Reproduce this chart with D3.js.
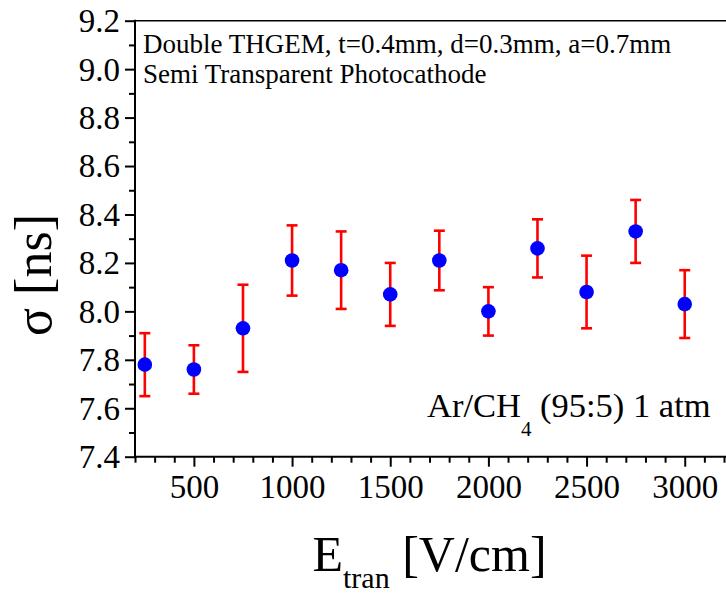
<!DOCTYPE html>
<html>
<head>
<meta charset="utf-8">
<script src="https://cdnjs.cloudflare.com/ajax/libs/d3/7.8.5/d3.min.js"></script>
<style>
  body { margin: 0; background: #fff; }
  svg text { font-family: "Liberation Serif", "Times New Roman", serif; fill: #000; }
</style>
</head>
<body>
<div id="chart"></div>
<script>
// data
var e_tran = [250, 500, 750, 1000, 1250, 1500, 1750, 2000, 2250, 2500, 2750, 3000];
var sigma = [7.78, 7.76, 7.93, 8.21, 8.17, 8.07, 8.21, 8.00, 8.26, 8.08, 8.33, 8.03];
var sigma_err = [0.13, 0.10, 0.18, 0.145, 0.16, 0.13, 0.123, 0.10, 0.12, 0.15, 0.13, 0.14];

var x_major = [500, 1000, 1500, 2000, 2500, 3000];
var y_major = [7.4, 7.6, 7.8, 8.0, 8.2, 8.4, 8.6, 8.8, 9.0, 9.2];

var note_lines = ["Double THGEM, t=0.4mm, d=0.3mm, a=0.7mm", "Semi Transparent Photocathode"];

// layout
var W = 726, H = 595,
    plot_left = 135, plot_right = 724,
    plot_top = 20.7, plot_bottom = 456.7,
    serif = '"Liberation Serif", "Times New Roman", serif',
    tick_font = 33,
    point_color = "#0000ff",
    err_color = "#ff0000";

var svg = d3.select("#chart").append("svg")
    .attr("width", W)
    .attr("height", H)
    .style("font-family", serif);

var x = d3.scaleLinear().domain([200, 3200]).range([plot_left, plot_right]);
var y = d3.scaleLinear().domain([7.4, 9.2]).range([plot_bottom, plot_top]);

var x_minor = d3.range(200, 3201, 100).filter(function(v) { return v % 500 !== 0; });
var y_minor = d3.range(7.5, 9.2, 0.2).map(function(v) { return +v.toFixed(1); });

/* ****************************************
* Axes
**************************************** */
// top frame line
svg.append("line")
    .attr("x1", plot_left).attr("x2", W)
    .attr("y1", plot_top).attr("y2", plot_top)
    .attr("stroke", "#000").attr("stroke-width", 1.6);

function style_axis(g) {
    g.attr("font-family", null).attr("font-size", null);
    g.select(".domain").remove();
    g.selectAll(".tick line").attr("stroke", "#000").attr("stroke-width", 2);
    g.selectAll(".tick text")
        .style("font-family", serif)
        .style("font-size", tick_font + "px");
}

// bottom axis: minor then major
svg.append("g")
    .attr("transform", "translate(0," + plot_bottom + ")")
    .call(d3.axisBottom(x).tickValues(x_minor).tickSize(6).tickFormat(""))
    .call(style_axis);

var gx = svg.append("g")
    .attr("transform", "translate(0," + plot_bottom + ")")
    .call(d3.axisBottom(x).tickValues(x_major).tickSize(10).tickFormat(d3.format("d")))
    .call(style_axis);
gx.selectAll(".tick text")
    .attr("y", 41).attr("dy", 0);

svg.append("line")
    .attr("x1", plot_left - 1).attr("x2", W)
    .attr("y1", plot_bottom).attr("y2", plot_bottom)
    .attr("stroke", "#000").attr("stroke-width", 2);

// left axis
svg.append("g")
    .attr("transform", "translate(" + plot_left + ",0)")
    .call(d3.axisLeft(y).tickValues(y_minor).tickSize(6).tickFormat(""))
    .call(style_axis);

var gy = svg.append("g")
    .attr("transform", "translate(" + plot_left + ",0)")
    .call(d3.axisLeft(y).tickValues(y_major).tickSize(10).tickFormat(d3.format(".1f")))
    .call(style_axis);
gy.selectAll(".tick text")
    .attr("x", -15).attr("dy", "0.33em");

svg.append("line")
    .attr("x1", plot_left).attr("x2", plot_left)
    .attr("y1", plot_top - 1).attr("y2", plot_bottom + 1)
    .attr("stroke", "#000").attr("stroke-width", 2);

/* ****************************************
* Axis titles
**************************************** */
var xt = svg.append("text")
    .attr("x", x(1700)).attr("y", 571)
    .attr("text-anchor", "middle")
    .style("font-size", "50px");
xt.append("tspan").text("E");
xt.append("tspan").attr("dy", 17).style("font-size", "30px").text("tran");
xt.append("tspan").attr("dy", -17).text(" [V/cm]");

svg.append("text")
    .attr("transform", "translate(51,275) rotate(-90)")
    .attr("text-anchor", "middle")
    .style("font-size", "52px")
    .text("σ [ns]");

/* ****************************************
* Annotations
**************************************** */
svg.selectAll("text.note")
    .data(note_lines)
    .enter().append("text")
    .attr("class", "note")
    .attr("x", 143)
    .attr("y", function(d, i) { return 53 + i * 30; })
    .style("font-size", "27px")
    .text(function(d) { return d; });

var gas = svg.append("text")
    .attr("x", 427).attr("y", 417)
    .style("font-size", "34.5px");
gas.append("tspan").text("Ar/CH");
gas.append("tspan").attr("dy", 19).style("font-size", "21px").text("4");
gas.append("tspan").attr("dy", -19).text(" (95:5) 1 atm");

/* ****************************************
* Data: error bars and points
**************************************** */
var pts = e_tran.map(function(v, i) { return {x: v, y: sigma[i], e: sigma_err[i]}; });

var cap = 5.5;
var eb = svg.append("g").attr("stroke", err_color).attr("stroke-width", 2.6);
eb.selectAll("line.bar")
    .data(pts).enter().append("line")
    .attr("class", "bar")
    .attr("x1", function(d) { return x(d.x); })
    .attr("x2", function(d) { return x(d.x); })
    .attr("y1", function(d) { return y(d.y - d.e); })
    .attr("y2", function(d) { return y(d.y + d.e); });
eb.selectAll("line.cap_top")
    .data(pts).enter().append("line")
    .attr("class", "cap_top")
    .attr("x1", function(d) { return x(d.x) - cap; })
    .attr("x2", function(d) { return x(d.x) + cap; })
    .attr("y1", function(d) { return y(d.y + d.e); })
    .attr("y2", function(d) { return y(d.y + d.e); });
eb.selectAll("line.cap_bot")
    .data(pts).enter().append("line")
    .attr("class", "cap_bot")
    .attr("x1", function(d) { return x(d.x) - cap; })
    .attr("x2", function(d) { return x(d.x) + cap; })
    .attr("y1", function(d) { return y(d.y - d.e); })
    .attr("y2", function(d) { return y(d.y - d.e); });

svg.selectAll("circle.pt")
    .data(pts).enter().append("circle")
    .attr("class", "pt")
    .attr("cx", function(d) { return x(d.x); })
    .attr("cy", function(d) { return y(d.y); })
    .attr("r", 7.3)
    .attr("fill", point_color);
</script>
</body>
</html>
